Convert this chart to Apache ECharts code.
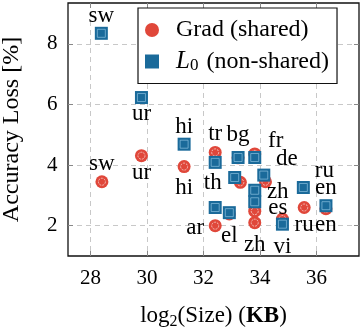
<!DOCTYPE html>
<html>
<head>
<meta charset="utf-8">
<script src="https://cdn.jsdelivr.net/npm/echarts@6/dist/echarts.min.js"></script>
<style>
  html, body { margin: 0; padding: 0; background: #fff; }
  #chart { width: 362px; height: 328px; }
</style>
</head>
<body>
<div id="chart"></div>
<script>
// languages, same order in both series
const langs = ['sw', 'ur', 'hi', 'tr', 'bg', 'fr', 'th', 'de', 'zh', 'es', 'ar', 'el', 'ru', 'en', 'vi']

// Grad (shared)
const gradX = [28.4, 29.8, 31.31, 32.41, 33.22, 33.81, 33.3, 34.19, 33.81, 33.81, 32.41, 32.91, 35.56, 36.33, 34.79]
const gradY = [3.45, 4.31, 3.95, 4.42, 4.24, 4.37, 3.43, 3.45, 2.1, 2.48, 2.0, 2.39, 2.6, 2.56, 2.22]

// L0 (non-shared)
const l0X = [28.38, 29.8, 31.31, 32.41, 33.22, 33.81, 33.1, 34.13, 33.81, 33.81, 32.41, 32.91, 35.53, 36.33, 34.79]
const l0Y = [8.35, 6.23, 4.69, 4.09, 4.25, 4.25, 3.59, 3.67, 3.17, 2.79, 2.6, 2.43, 3.26, 2.66, 2.05]

const xTicks = [28, 30, 32, 34, 36]
const yTicks = [2, 4, 6, 8]

// where each language tag sits relative to its marker (only some are tagged)
const gradLabelOffset = {
  sw: [0, -18], ur: [0, 17], hi: [0, 21], tr: [0, -18], es: [23, -3],
  zh: [0, 22], ar: [-20, 2], el: [0, 22], ru: [0, 17], en: [0, 16]
}
const l0LabelOffset = {
  sw: [0, -17], ur: [0, 16], hi: [0, -17], bg: [0, -23], fr: [21, -17],
  th: [-22, 5], de: [23, -16], zh: [23, 2], ru: [21, -17], en: [0, -18], vi: [0, 23]
}

const FONT = 'Liberation Serif'
const RED = '#e0473a'
const BLUE = '#1a6a9a'

function buildData(xs, ys, offsets) {
  return langs.map((name, i) => {
    const off = offsets[name]
    return {
      name: name,
      value: [xs[i], ys[i]],
      label: off ? { show: true, offset: off } : { show: false }
    }
  })
}

const chart = echarts.init(document.getElementById('chart'))

const axisCommon = {
  type: 'value',
  axisLine: { show: false },
  axisTick: { show: true, inside: true, length: 5, lineStyle: { color: '#888' } },
  splitLine: { show: false }
}

const labelStyle = {
  position: 'inside',
  formatter: '{b}',
  color: '#000',
  fontFamily: FONT,
  fontSize: 23
}

chart.setOption({
  animation: false,
  grid: {
    left: 68, right: 3, top: 3, bottom: 72,
    outerBoundsMode: 'none',
    containLabel: false,
    show: true, borderColor: '#111', borderWidth: 1.3
  },
  legend: {
    data: ['Grad (shared)', 'L0 (non-shared)'],
    orient: 'vertical',
    left: 138,
    top: 8,
    padding: [10, 8, 9, 7],
    itemGap: 7,
    itemWidth: 14,
    itemHeight: 14,
    backgroundColor: '#fff',
    borderColor: '#111',
    borderWidth: 1.2,
    borderRadius: 0,
    formatter: name => name === 'L0 (non-shared)' ? '{i|L}{s|0} (non-shared)' : name,
    textStyle: {
      fontFamily: FONT,
      fontSize: 24,
      color: '#000',
      padding: [0, 0, 0, 12],
      rich: {
        i: { fontFamily: FONT, fontSize: 25, fontStyle: 'italic', color: '#000' },
        s: { fontFamily: FONT, fontSize: 17, color: '#000', padding: [9, 2, 0, 0] }
      }
    }
  },
  xAxis: [
    Object.assign({}, axisCommon, {
      min: 27.2, max: 37.5,
      name: 'log{s|2}(Size) ({b|KB})',
      nameLocation: 'middle',
      nameGap: 46,
      nameTextStyle: {
        fontFamily: FONT, fontSize: 23, color: '#000',
        rich: {
          s: { fontFamily: FONT, fontSize: 16, color: '#000', padding: [12, 0, 0, 0] },
          b: { fontFamily: FONT, fontSize: 23, fontWeight: 'bold', color: '#000' }
        }
      },
      axisTick: Object.assign({}, axisCommon.axisTick, { customValues: xTicks }),
      axisLabel: { customValues: xTicks, margin: 12, color: '#000', fontFamily: FONT, fontSize: 21 },
      splitLine: { show: true, lineStyle: { color: '#c8c8c8', type: [5, 4], width: 1 } }
    }),
    Object.assign({}, axisCommon, {
      position: 'top', min: 27.2, max: 37.5,
      axisTick: Object.assign({}, axisCommon.axisTick, { customValues: xTicks }),
      axisLabel: { show: false, customValues: xTicks }
    })
  ],
  yAxis: [
    Object.assign({}, axisCommon, {
      min: 1, max: 9.35,
      position: 'left',
      name: 'Accuracy Loss [%]',
      nameLocation: 'middle',
      nameGap: 44,
      nameTextStyle: { fontFamily: FONT, fontSize: 24, color: '#000' },
      axisTick: Object.assign({}, axisCommon.axisTick, { customValues: yTicks }),
      axisLabel: { customValues: yTicks, margin: 21, align: 'left', color: '#000', fontFamily: FONT, fontSize: 21 },
      splitLine: { show: true, lineStyle: { color: '#c8c8c8', type: [5, 4], width: 1 } }
    }),
    Object.assign({}, axisCommon, {
      position: 'right', min: 1, max: 9.35,
      axisTick: Object.assign({}, axisCommon.axisTick, { customValues: yTicks }),
      axisLabel: { show: false, customValues: yTicks }
    })
  ],
  series: [
    {
      name: 'Grad (shared)',
      type: 'scatter',
      symbol: 'circle',
      symbolSize: 13,
      itemStyle: { color: RED, opacity: 1 },
      label: labelStyle,
      data: buildData(gradX, gradY, gradLabelOffset)
    },
    {
      // thin light ring inside the red dots
      name: 'grad-ring',
      type: 'scatter',
      symbol: 'circle',
      symbolSize: 7,
      silent: true,
      itemStyle: { color: 'transparent', borderColor: 'rgba(255,255,255,0.75)', borderWidth: 1, borderType: [2, 1] },
      data: buildData(gradX, gradY, {})
    },
    {
      name: 'L0 (non-shared)',
      type: 'scatter',
      symbol: 'rect',
      symbolSize: 13,
      itemStyle: { color: BLUE, opacity: 1 },
      label: labelStyle,
      data: buildData(l0X, l0Y, l0LabelOffset)
    },
    {
      name: 'l0-ring',
      type: 'scatter',
      symbol: 'rect',
      symbolSize: 8,
      silent: true,
      itemStyle: { color: 'transparent', borderColor: 'rgba(150,200,230,0.8)', borderWidth: 1 },
      data: buildData(l0X, l0Y, {})
    }
  ]
})
</script>
</body>
</html>
